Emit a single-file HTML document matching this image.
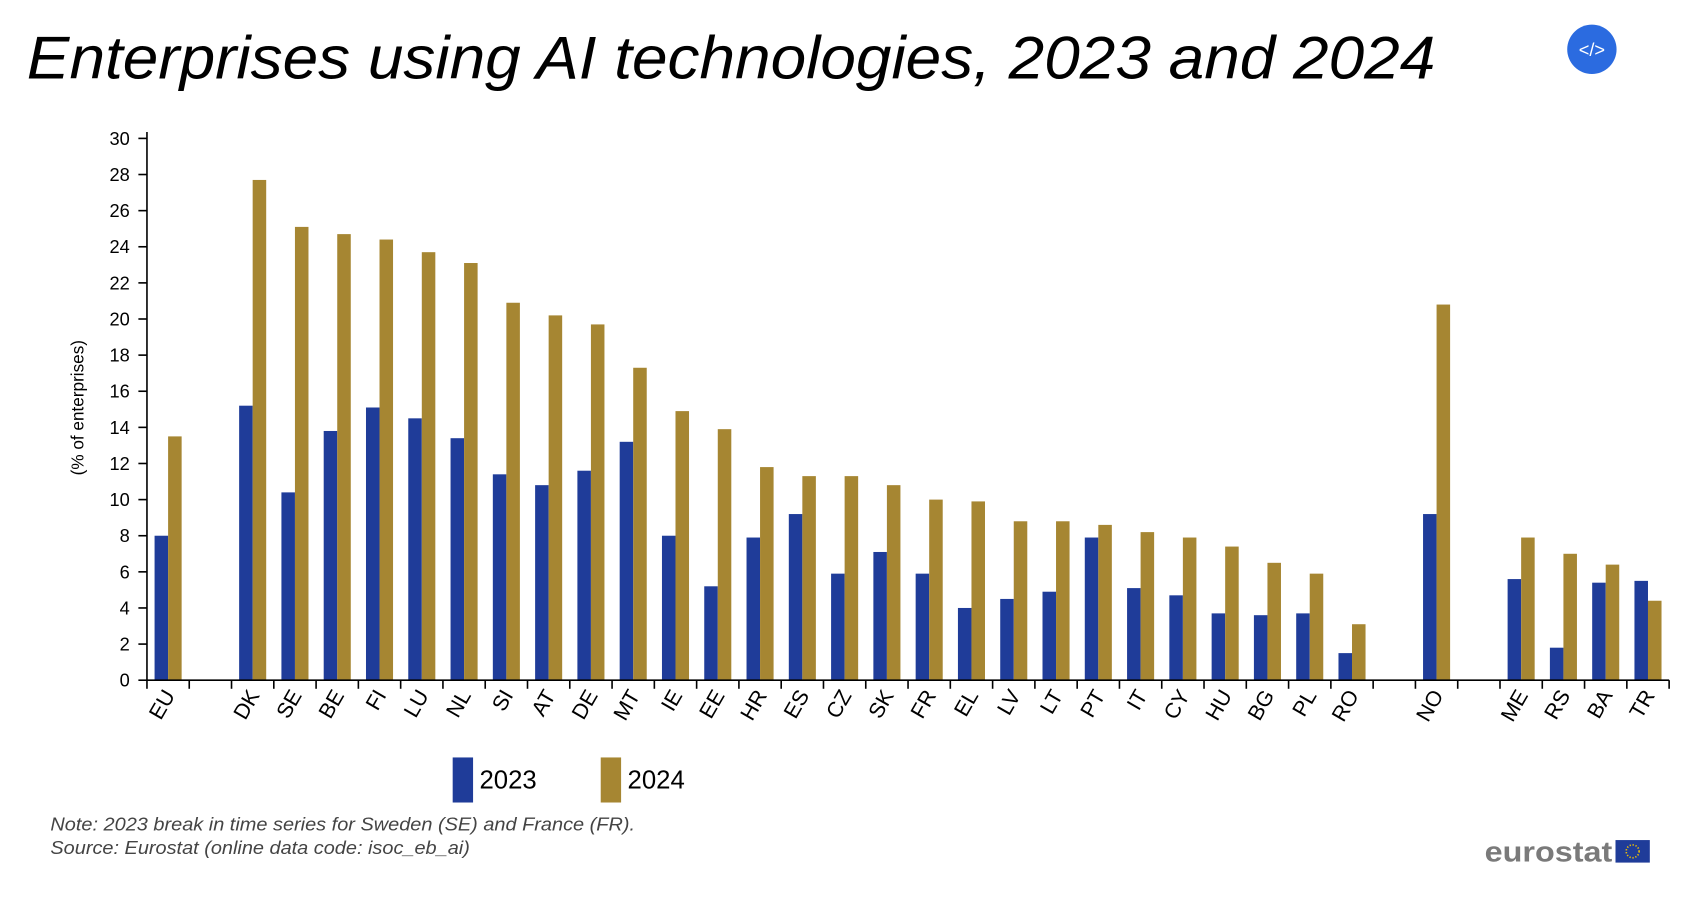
<!DOCTYPE html>
<html><head><meta charset="utf-8"><style>
html,body{margin:0;padding:0;background:#fff;}
svg{display:block;font-family:"Liberation Sans",Arial,sans-serif;}
</style></head><body>
<svg id="chart" width="1682" height="898" viewBox="0 0 1568 837" preserveAspectRatio="none" xmlns="http://www.w3.org/2000/svg">
<text x="25" y="73" font-size="56" font-style="italic" textLength="1313" lengthAdjust="spacingAndGlyphs">Enterprises using AI technologies, 2023 and 2024</text>
<g>
<circle cx="1484" cy="46" r="23" fill="#2b6be0"/>
<text x="1484" y="52" font-size="17" fill="#fff" text-anchor="middle">&lt;/&gt;</text>
</g>
<text transform="translate(78,380) rotate(-90)" font-size="16" text-anchor="middle">(% of enterprises)</text>
<g id="plot"></g>
<g>
<rect x="422" y="706" width="19" height="42" fill="#1f3c99"/>
<text x="447" y="735" font-size="24">2023</text>
<rect x="560" y="706" width="19" height="42" fill="#a68632"/>
<text x="585" y="735" font-size="24">2024</text>
</g>
<text x="47" y="774" font-size="17" font-style="italic" fill="#444" textLength="545" lengthAdjust="spacingAndGlyphs">Note: 2023 break in time series for Sweden (SE) and France (FR).</text>
<text x="47" y="796" font-size="17" font-style="italic" fill="#444" textLength="391" lengthAdjust="spacingAndGlyphs">Source: Eurostat (online data code: isoc_eb_ai)</text>
<g>
<text x="1384" y="803" font-size="27" font-weight="bold" fill="#7a7a7a" textLength="119" lengthAdjust="spacingAndGlyphs">eurostat</text>
<rect x="1506" y="783" width="32" height="21" fill="#1f3c99"/>
<circle cx="1522" cy="793.5" r="6" fill="none" stroke="#f2c200" stroke-width="1.5" stroke-dasharray="1.2 1.6"/>
</g>
</svg>
<script>
const categories = ["EU","","DK","SE","BE","FI","LU","NL","SI","AT","DE","MT","IE","EE","HR","ES","CZ","SK","FR","EL","LV","LT","PT","IT","CY","HU","BG","PL","RO","","NO","","ME","RS","BA","TR"];
const values2023 = [8.0,null,15.2,10.4,13.8,15.1,14.5,13.4,11.4,10.8,11.6,13.2,8.0,5.2,7.9,9.2,5.9,7.1,5.9,4.0,4.5,4.9,7.9,5.1,4.7,3.7,3.6,3.7,1.5,null,9.2,null,5.6,1.8,5.4,5.5];
const values2024 = [13.5,null,27.7,25.1,24.7,24.4,23.7,23.1,20.9,20.2,19.7,17.3,14.9,13.9,11.8,11.3,11.3,10.8,10.0,9.9,8.8,8.8,8.6,8.2,7.9,7.4,6.5,5.9,3.1,null,20.8,null,7.9,7.0,6.4,4.4];
const yTicks = [0,2,4,6,8,10,12,14,16,18,20,22,24,26,28,30];

const NS="http://www.w3.org/2000/svg";
const plot=document.getElementById('plot');
const X0=137,X1=1556,Y0=634,Y30=129;
const slotW=(X1-X0)/categories.length;
const y=v=>Y0-(v/30)*(Y0-Y30);
const xc=i=>X0+(i+0.5)*slotW;
function mk(tag,attrs){const e=document.createElementNS(NS,tag);for(const k in attrs)e.setAttribute(k,attrs[k]);plot.appendChild(e);return e;}

yTicks.forEach(t=>{
  const l=mk('line',{x1:X0-8,x2:X0,y1:y(t),y2:y(t),stroke:'#000','stroke-width':1.5});
  
  
  const tx=mk('text',{x:X0-16,y:y(t)+6,'font-size':17,'text-anchor':'end'});
  tx.textContent=t;
  
  
});
const bw=slotW*0.32;
categories.forEach((c,i)=>{
  if(values2023[i]!=null){
    const b=mk('rect',{x:xc(i)-bw,y:y(values2023[i]),width:bw,height:Y0-y(values2023[i]),fill:'#1f3c99'});
    
    
  }
  if(values2024[i]!=null){
    const b=mk('rect',{x:xc(i),y:y(values2024[i]),width:bw,height:Y0-y(values2024[i]),fill:'#a68632'});
    
    
  }
  if(c){
    const t=mk('text',{transform:`translate(${xc(i)+7},${Y0+14}) rotate(-60)`,'font-size':20,'text-anchor':'end'});
    t.textContent=c;
    
    
  }
});
for(let i=0;i<=categories.length;i++){
  const l=mk('line',{x1:X0+i*slotW,x2:X0+i*slotW,y1:Y0,y2:Y0+8,stroke:'#000','stroke-width':1.5});
  
  
}
const ya=mk('line',{x1:X0,x2:X0,y1:Y30-6,y2:Y0,stroke:'#000','stroke-width':1.5});


const xa=mk('line',{x1:X0,x2:X1,y1:Y0,y2:Y0,stroke:'#000','stroke-width':1.5});


</script>
</body></html>
